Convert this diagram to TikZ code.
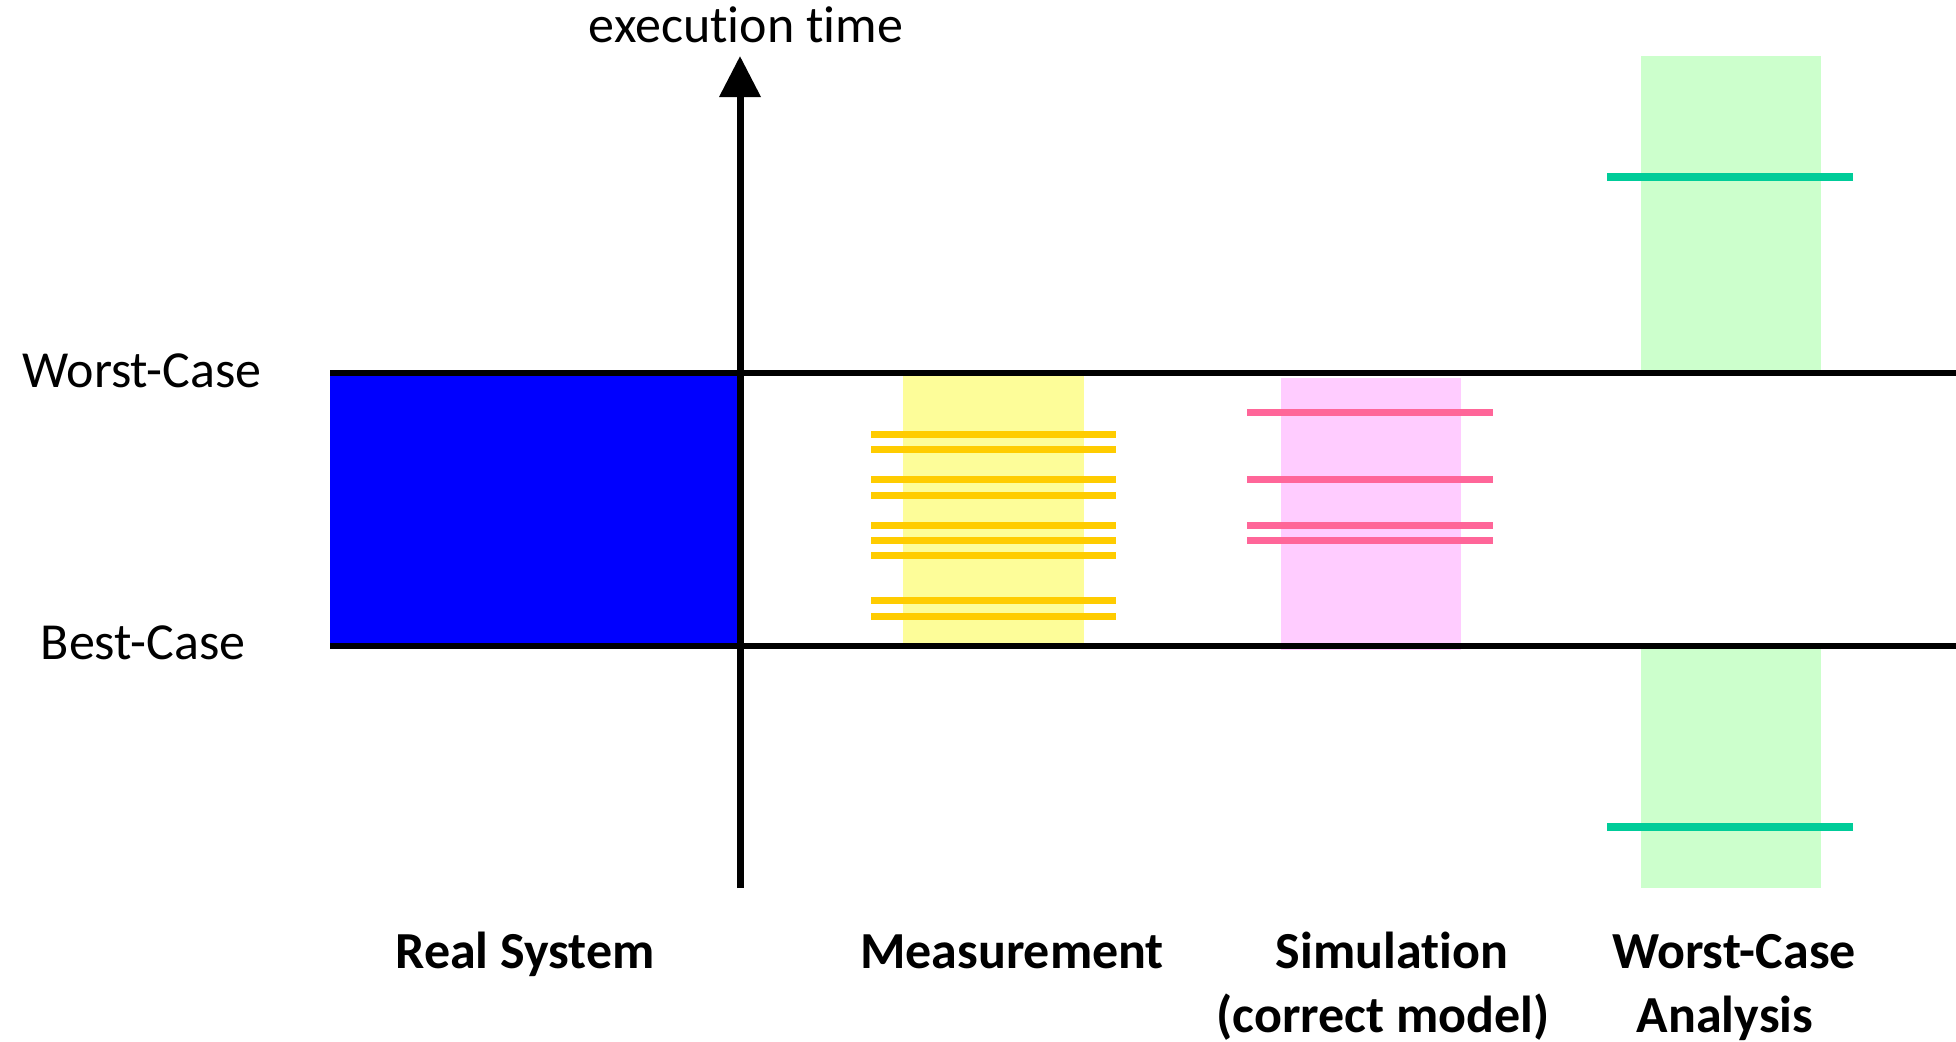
\documentclass[tikz,border=0pt]{standalone}
\usepackage{fontspec}
\setmainfont{Carlito}[Ligatures={NoCommon}]
\usetikzlibrary{arrows.meta}
\definecolor{realblue}{HTML}{0000FF}
\definecolor{measfill}{HTML}{FDFD99}
\definecolor{measline}{HTML}{FFCC00}
\definecolor{simfill}{HTML}{FFCCFF}
\definecolor{simline}{HTML}{FF6699}
\definecolor{wcafill}{HTML}{CCFFCC}
\definecolor{wcaline}{HTML}{00CC99}
\tikzset{
  txt/.style={font=\fontsize{52}{64}\selectfont, anchor=base, inner sep=0pt},
  btxt/.style={font=\fontsize{52}{64}\selectfont\bfseries, anchor=base, inner sep=0pt},
  bound/.style={line width=6pt, black},
  axisline/.style={line width=7pt, black, -{Triangle[width=40pt,length=41pt]}},
  measbar/.style={line width=7pt, measline},
  simbar/.style={line width=7pt, simline},
  wcabar/.style={line width=8pt, wcaline},
}
\begin{document}
\begin{tikzpicture}[x=1pt,y=-1pt]
\useasboundingbox[fill=white] (0,0) rectangle (1956,1041);
% background ranges
\fill[realblue] (330,373) rectangle (740,646);
\fill[measfill] (903,376) rectangle (1084,643);
\fill[simfill] (1281,378) rectangle (1461,650);
\fill[wcafill] (1641,56) rectangle (1821,371);
\fill[wcafill] (1641,645) rectangle (1821,888);
% measurement bars
\foreach \yy in {434,449,479,495,525,540,555,600,616}
  \draw[measbar] (871,\yy) -- (1116,\yy);
% simulation bars
\foreach \yy in {412,479,525,540}
  \draw[simbar] (1247,\yy) -- (1493,\yy);
% worst-case analysis bars
\draw[wcabar] (1607,177) -- (1853,177);
\draw[wcabar] (1607,827) -- (1853,827);
% bounds
\coordinate (wcL) at (330,373);
\coordinate (wcR) at (1956,373);
\coordinate (bcL) at (330,646);
\coordinate (bcR) at (1956,646);
\draw[bound] (wcL) -- (wcR);
\draw[bound] (bcL) -- (bcR);
% axis
\coordinate (axbot) at (740,888);
\coordinate (axtop) at (740,56);
\draw[axisline] (axbot) -- (axtop);
% texts
\node[txt] (ylabel) at (746,43) {execution time};
\node[txt] (wclabel) at (142,387) {Worst-Case};
\node[txt] (bclabel) at (143,659) {Best-Case};
\node[btxt] (real) at (525,968) {Real System};
\node[btxt] (meas) at (1012,968) {Measurement};
\node[btxt] (sim1) at (1392,968) {Simulation};
\node[btxt] (sim2) at (1383,1032) {(correct model)};
\node[btxt] (wca1) at (1734,968) {Worst-Case};
\node[btxt] (wca2) at (1725,1032) {Analysis};
\end{tikzpicture}
\end{document}
